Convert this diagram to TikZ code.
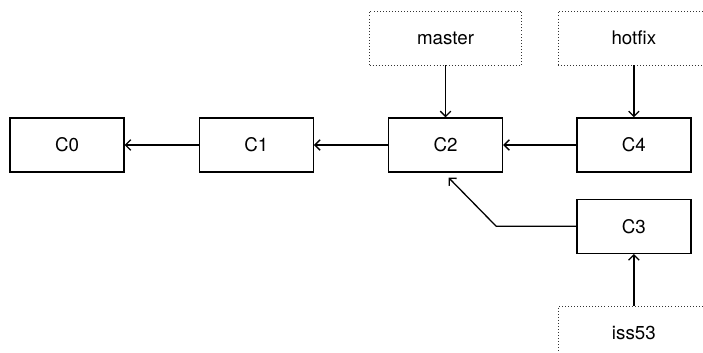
\documentclass[tikz,border=0pt]{standalone}
\usepackage{fontspec}
\setmainfont{TeX Gyre Heros}
\usepackage{tikz}
\usetikzlibrary{shapes.geometric, arrows.meta, positioning, calc}
\tikzstyle{commit} = [rectangle, minimum width=3.42cm, minimum height=1.62cm, text centered, draw=black, line width=1.1pt]
\tikzstyle{branch} = [rectangle, minimum width=4.56cm, minimum height=1.62cm, text centered, draw=black!80, dotted, line width=0.6pt]
\tikzstyle{arrow} = [line width=1.1pt,-{Straight Barb[length=4.5pt,width=9pt]}]

\begin{document}
\begin{tikzpicture}[every node/.style={font=\fontsize{16}{19}\selectfont}]

    \useasboundingbox (0,0) rectangle (21.09,10.59);

    % Commit
    \node (C0) [commit] at (2.01,6.24) {C0};
    \node (C1) [commit, right=2.22cm of C0] {C1};
    \node (C2) [commit, right=2.22cm of C1] {C2};
    \node (C4) [commit, right=2.19cm of C2] {C4};
    \node (C3) [commit, below=0.78cm of C4] {C3};

    % Rami
    \node (master) [branch, above=1.56cm of C2] {master};
    \node (hotfix) [branch, above=1.56cm of C4] {hotfix};
    \node (iss53) [branch, below=1.56cm of C3] {iss53};

    % Frecce
    \draw [arrow] (C1) -- (C0);
    \draw [arrow] (C2) -- (C1);
    \draw [arrow] (C4) -- (C2);
    \draw [arrow] (C3.west) -- ++(-2.4,0) -- ([xshift=0.09cm,yshift=-0.15cm]C2.south);
    \draw [arrow] (master) -- (C2);
    \draw [arrow] (hotfix) -- (C4);
    \draw [arrow] (iss53) -- (C3);

\end{tikzpicture}
\end{document}
